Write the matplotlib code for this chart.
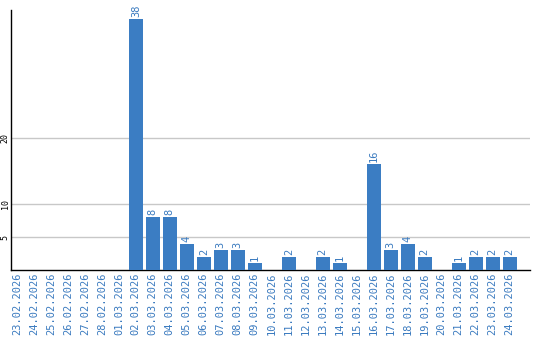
import matplotlib
matplotlib.use("Agg")
import matplotlib.pyplot as plt

BAR = "#3b7dc3"
TEXT = "#3a7abf"
GRID = "#c8c8c8"

dates = [
    "23.02.2026", "24.02.2026", "25.02.2026", "26.02.2026", "27.02.2026",
    "28.02.2026", "01.03.2026", "02.03.2026", "03.03.2026", "04.03.2026",
    "05.03.2026", "06.03.2026", "07.03.2026", "08.03.2026", "09.03.2026",
    "10.03.2026", "11.03.2026", "12.03.2026", "13.03.2026", "14.03.2026",
    "15.03.2026", "16.03.2026", "17.03.2026", "18.03.2026", "19.03.2026",
    "20.03.2026", "21.03.2026", "22.03.2026", "23.03.2026", "24.03.2026",
]
counts = [0, 0, 0, 0, 0, 0, 0, 38, 8, 8, 4, 2, 3, 3, 1,
          0, 2, 0, 2, 1, 0, 16, 3, 4, 2, 0, 1, 2, 2, 2]
yticks = [5, 10, 20]

fig = plt.figure(figsize=(5.4, 3.4), dpi=100)
ax = fig.add_axes([10.5 / 540, 70 / 340, 519.5 / 540, 260 / 340])

x = list(range(len(dates)))
ax.bar(x, counts, width=0.82, color=BAR, zorder=3)
for xi, v in zip(x, counts):
    if v > 0:
        ax.text(xi, v + 0.3, str(v), rotation=90, ha="center", va="bottom",
                color=TEXT, fontsize=7.5, family="DejaVu Sans Mono", zorder=4)

ax.set_xlim(-0.38, 30.2)
ax.set_ylim(0, 39.4)
ax.set_yticks(yticks)
ax.set_yticklabels([str(t) for t in yticks], rotation=90, va="center",
                   fontsize=6, family="DejaVu Sans Mono")
ax.set_xticks(x)
ax.set_xticklabels(dates, rotation=90, fontsize=7.5, color=TEXT,
                   family="DejaVu Sans Mono")
ax.tick_params(axis="x", length=0, pad=2)
ax.tick_params(axis="y", length=0, pad=0.5)
ax.grid(axis="y", color=GRID, linewidth=1, zorder=0)
for s in ("top", "right"):
    ax.spines[s].set_visible(False)
for s in ("left", "bottom"):
    ax.spines[s].set_color("black")
    ax.spines[s].set_linewidth(1)

fig.savefig("out.png", dpi=100, facecolor="white")
